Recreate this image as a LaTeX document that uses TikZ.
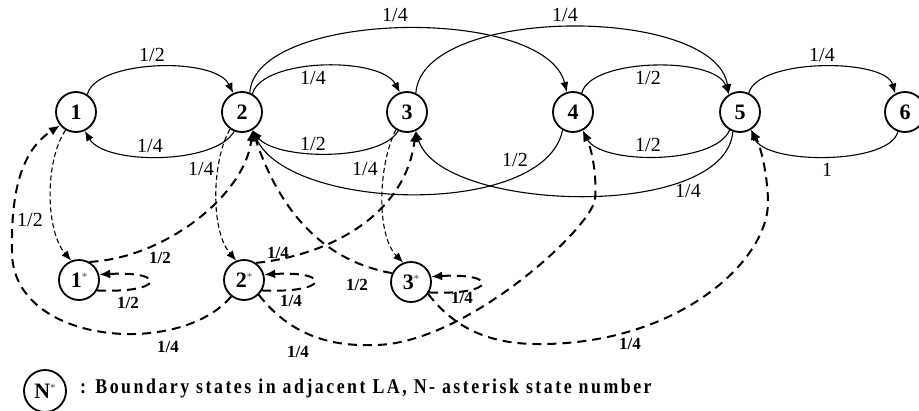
\documentclass[tikz,border=0pt]{standalone}
\usepackage{fontspec}
\setmainfont{Liberation Serif}
\usetikzlibrary{arrows.meta}
\newcommand{\astsup}{\raisebox{7pt}{\fontsize{11}{11}\selectfont\mdseries\color{black!70}*}}
\begin{document}
\begin{tikzpicture}[x=1pt,y=-1pt,
  stnode/.style={circle,draw,line width=1.8pt,minimum size=40pt,inner sep=0pt,
    font=\fontsize{22}{22}\selectfont\bfseries},
  solidarc/.style={line width=1.1pt,-{Latex[length=10pt,width=8pt]}},
  thindash/.style={line width=1.1pt,dash pattern=on 5pt off 3pt,-{Latex[length=10pt,width=8pt]}},
  thickdash/.style={line width=2pt,dash pattern=on 9pt off 6pt,-{Latex[length=11pt,width=9pt]}},
  lbl/.style={font=\fontsize{20}{20}\selectfont,inner sep=0pt},
  blbl/.style={font=\fontsize{17}{17}\selectfont\bfseries,inner sep=0pt},
]
\useasboundingbox (0,0) rectangle (919,410);

% main states
\node[stnode] (n1) at (76,112) {1};
\node[stnode] (n2) at (242,112) {2};
\node[stnode] (n3) at (407,112) {3};
\node[stnode] (n4) at (573,112) {4};
\node[stnode] (n5) at (740,112) {5};
\node[stnode] (n6) at (905,112) {6};

% boundary states
\node[stnode] (s1) at (79,280) {1\astsup};
\node[stnode] (s2) at (244,280) {2\astsup};
\node[stnode] (s3) at (411,282) {3\astsup};

% solid transitions
\draw[solidarc] (n1.57) .. controls (95,60) and (215,56) .. (n2.115);
\draw[solidarc] (n2.-112) .. controls (215,165) and (105,165) .. (n1.-65);
\draw[solidarc] (n2.60) .. controls (262,58) and (380,56) .. (n3.110);
\draw[solidarc] (n3.-115) .. controls (380,162) and (275,160) .. (n2.-60);
\draw[solidarc] (n2.68) .. controls (255,10) and (545,5) .. (n4.107);
\draw[solidarc] (n3.65) .. controls (422,5) and (715,5) .. (n5.122);
\draw[solidarc] (n4.65) .. controls (590,58) and (715,56) .. (n5.122);
\draw[solidarc] (n5.-120) .. controls (715,165) and (600,165) .. (n4.-62);
\draw[solidarc] (n5.65) .. controls (758,58) and (885,58) .. (n6.118);
\draw[solidarc] (n6.-110) .. controls (890,165) and (765,165) .. (n5.-58);
\draw[solidarc] (n4.-120) .. controls (545,218) and (290,212) .. (n2.-60);
\draw[solidarc] (n5.-110) .. controls (725,222) and (440,212) .. (n3.-65);

% thin dashed: into boundary states
\draw[thindash] (n1.-120) .. controls (45,160) and (45,230) .. (s1.112);
\draw[thindash] (n2.-125) .. controls (212,160) and (210,230) .. (s2.112);
\draw[thindash] (n3.-122) .. controls (378,165) and (376,235) .. (s3.112);

% thick dashed: out of boundary states
\draw[thickdash] (s1.60) .. controls (165,258) and (245,195) .. (n2.-60);
\draw[thickdash] (s2.55) .. controls (330,255) and (405,215) .. (n3.-65);
\draw[thickdash] (s3.155) .. controls (330,262) and (283,220) .. (n2.-60);
\draw[thickdash] (s2.-128) .. controls (180,358) and (10,345) .. (12,250)
  .. controls (11,190) and (22,150) .. (n1.-140);
\draw[thickdash] (s2.-45) .. controls (290,335) and (330,346) .. (370,345)
  .. controls (460,348) and (588,232) .. (595,200)
  .. controls (597,175) and (592,150) .. (n4.-62);
\draw[thickdash] (s3.-35) .. controls (460,335) and (500,345) .. (545,344)
  .. controls (680,342) and (770,260) .. (768,200)
  .. controls (767,170) and (760,145) .. (n5.-58);

% self loops
\draw[thickdash] (s1.-30) .. controls +(68,3) and +(68,-4) .. (s1.15);
\draw[thickdash] (s2.-30) .. controls +(68,3) and +(68,-4) .. (s2.15);
\draw[thickdash] (s3.-30) .. controls +(68,3) and +(68,-4) .. (s3.15);

% probabilities, solid and thin dashed arcs
\node[lbl] (p12) at (152,55) {1/2};
\node[lbl] (p21) at (150,146) {1/4};
\node[lbl] (p23) at (313,78) {1/4};
\node[lbl] (p32) at (313,144) {1/2};
\node[lbl] (p24) at (395,15) {1/4};
\node[lbl] (p35) at (565,15) {1/4};
\node[lbl] (p45) at (648,78) {1/2};
\node[lbl] (p54) at (648,145) {1/2};
\node[lbl] (p56) at (822,55) {1/4};
\node[lbl] (p65) at (827,170) {1};
\node[lbl] (p42) at (515,160) {1/2};
\node[lbl] (p53) at (688,191) {1/4};
\node[lbl] (p1s) at (30,220) {1/2};
\node[lbl] (p2s) at (201,169) {1/4};
\node[lbl] (p3s) at (365,169) {1/4};

% probabilities, thick dashed arcs
\node[blbl] (q12) at (160,258) {1/2};
\node[blbl] (q11) at (128,303) {1/2};
\node[blbl] (q23) at (278,253) {1/4};
\node[blbl] (q22) at (291,301) {1/4};
\node[blbl] (q32) at (357,285) {1/2};
\node[blbl] (q33) at (462,298) {1/4};
\node[blbl] (q21) at (168,347) {1/4};
\node[blbl] (q24) at (298,352) {1/4};
\node[blbl] (q35) at (630,344) {1/4};

% legend
\node[stnode,minimum size=42pt] (leg) at (45,391) {N\astsup};
\node[anchor=base west,inner sep=0pt] (legtext) at (80,393)
  {\scalebox{0.85}[1]{\fontsize{21}{21}\selectfont\bfseries\addfontfeature{LetterSpace=14}: Boundary states in adjacent LA, N- asterisk state number}};
\end{tikzpicture}
\end{document}
